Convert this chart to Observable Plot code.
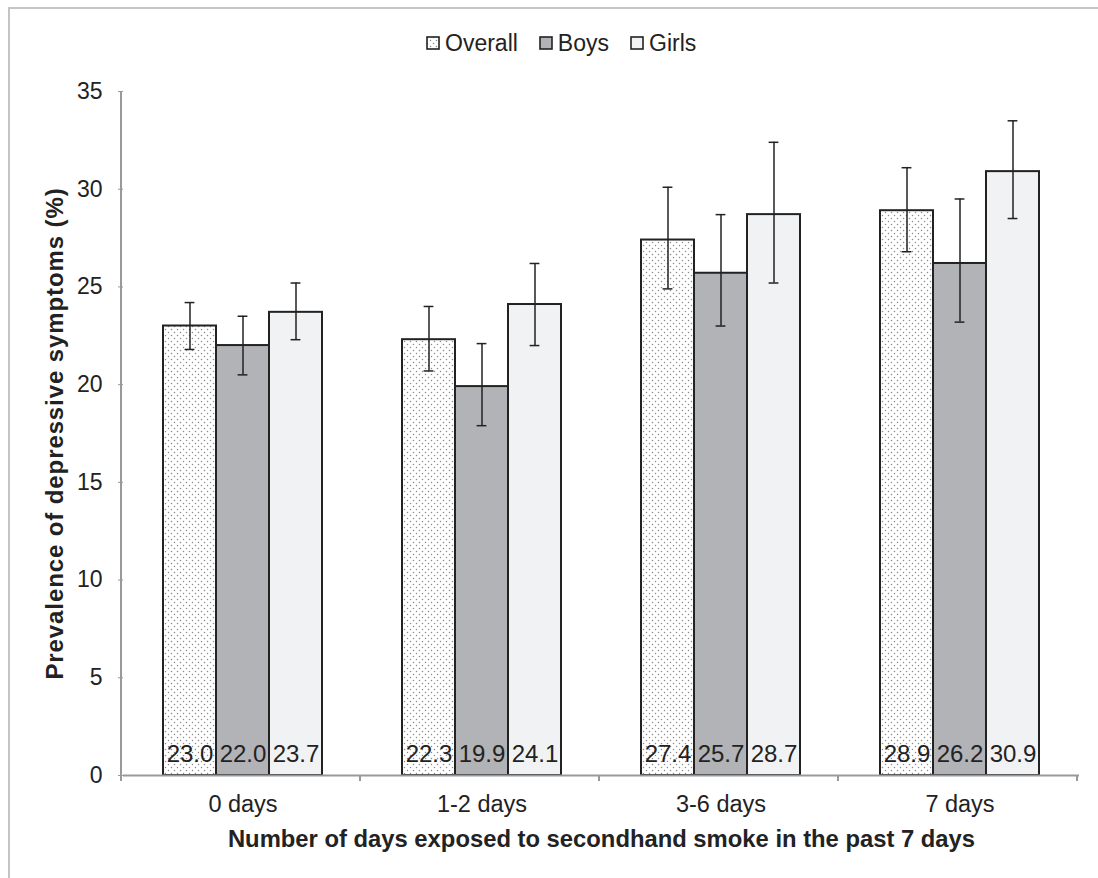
<!DOCTYPE html>
<html><head><meta charset="utf-8">
<script src="https://cdn.jsdelivr.net/npm/d3@7"></script>
<script src="https://cdn.jsdelivr.net/npm/@observablehq/plot@0.6"></script>
<style>
body{margin:0;background:#fff;font-family:"Liberation Sans",Arial,sans-serif;}
#frame{position:absolute;left:8px;top:7px;width:1090px;height:871px;border-top:2px solid #c4c4c4;border-left:2px solid #c4c4c4;}
#legend{position:absolute;top:30px;left:426px;display:flex;font-size:23px;color:#222;line-height:26px}
.item{display:flex;align-items:center;margin-right:21px}
.item svg{margin-right:5px}
#chart{position:absolute;left:0;top:70px}
#chart svg{font-family:"Liberation Sans",Arial,sans-serif;}
#chart g[aria-label="y-axis tick"] path{stroke:#999;}
#chart g[aria-label="fx-axis label"] text{font-weight:bold;font-size:23.8px;fill:#222}
#chart g[aria-label="y-axis label"] text{font-weight:bold;font-size:24px;letter-spacing:0.9px;fill:#222}
#chart g[aria-label="y-axis tick label"] text{font-size:23px;fill:#222}
#chart g[aria-label="fx-axis tick label"] text{font-size:23.5px;fill:#222}
</style>
</head><body>
<svg width="0" height="0" style="position:absolute">
  <defs>
    <pattern id="dots" width="6" height="6" patternUnits="userSpaceOnUse">
      <rect width="6" height="6" fill="#ffffff"/>
      <circle cx="1.5" cy="1.5" r="0.75" fill="#8a8a8a"/>
      <circle cx="4.5" cy="4.5" r="0.75" fill="#8a8a8a"/>
    </pattern>
  </defs>
</svg>
<div id="frame"></div>
<div id="legend"></div>
<div id="chart"></div>
<script>
// ---- data ----
const categories = ["0 days", "1-2 days", "3-6 days", "7 days"];
const groups = ["Overall", "Boys", "Girls"];
const overallValue = [23.0, 22.3, 27.4, 28.9];
const overallLow   = [21.8, 20.7, 24.9, 26.8];
const overallHigh  = [24.2, 24.0, 30.1, 31.1];
const boysValue    = [22.0, 19.9, 25.7, 26.2];
const boysLow      = [20.5, 17.9, 23.0, 23.2];
const boysHigh     = [23.5, 22.1, 28.7, 29.5];
const girlsValue   = [23.7, 24.1, 28.7, 30.9];
const girlsLow     = [22.3, 22.0, 25.2, 28.5];
const girlsHigh    = [25.2, 26.2, 32.4, 33.5];
const yTicks = [0, 5, 10, 15, 20, 25, 30, 35];
const yLabel = "Prevalence of depressive symptoms (%)";
const xLabel = "Number of days exposed to secondhand smoke in the past 7 days";

// ---- styles ----
const fills = {Overall: "url(#dots)", Boys: "#b2b3b6", Girls: "#f1f2f4"};

const seriesData = {
  Overall: [overallValue, overallLow, overallHigh],
  Boys: [boysValue, boysLow, boysHigh],
  Girls: [girlsValue, girlsLow, girlsHigh]
};
const rows = categories.flatMap((c, i) => groups.map(g => ({
  category: c, group: g,
  value: seriesData[g][0][i], lo: seriesData[g][1][i], hi: seriesData[g][2][i]
})));

// legend
const legend = document.getElementById("legend");
for (const g of groups) {
  const item = document.createElement("div");
  item.className = "item";
  item.innerHTML = `<svg width="14" height="14"><rect x="1" y="1" width="12" height="12" fill="${fills[g]}" stroke="#222" stroke-width="1.6"/></svg><span>${g}</span>`;
  legend.appendChild(item);
}

const barMarks = groups.map(g => Plot.barY(rows.filter(d => d.group === g), {
  fx: "category", x: "group", y: "value",
  fill: fills[g], stroke: "#222", strokeWidth: 2
}));

const chart = Plot.plot({
  width: 1098, height: 808,
  marginLeft: 121, marginRight: 18, marginTop: 21, marginBottom: 103,
  style: {fontFamily: "Liberation Sans, Arial, sans-serif", color: "#222", background: "transparent"},
  fx: {domain: categories, padding: 0, axis: "bottom", tickSize: 0, tickPadding: 20,
       label: xLabel, labelAnchor: "center", labelOffset: 71, labelArrow: false},
  x: {domain: groups, paddingInner: 0, paddingOuter: 0.75, axis: null},
  y: {domain: [0, 35], ticks: yTicks, tickSize: 5, tickPadding: 16,
      label: yLabel, labelAnchor: "center", labelOffset: 78, labelArrow: false, line: false},
  marks: [
    ...barMarks,
    Plot.ruleX(rows, {fx: "category", x: "group", y1: "lo", y2: "hi", stroke: "#222", strokeWidth: 1.5}),
    Plot.tickY(rows, {fx: "category", x: "group", y: "lo", stroke: "#222", strokeWidth: 1.5, insetLeft: 21.6, insetRight: 21.6}),
    Plot.tickY(rows, {fx: "category", x: "group", y: "hi", stroke: "#222", strokeWidth: 1.5, insetLeft: 21.6, insetRight: 21.6}),
    Plot.text(rows, {fx: "category", x: "group", y: 0, text: d => d.value.toFixed(1),
      lineAnchor: "bottom", dy: -14, fontSize: 24, fill: "#222"}),
    Plot.ruleY([0], {stroke: "#999", strokeWidth: 2})
  ]
});
document.getElementById("chart").appendChild(chart);

// axis line and category-boundary ticks, placed with the plot's own scales
const fxS = chart.scale("fx");
const yS = chart.scale("y");
const y0 = yS.range[0], yTop = yS.range[1];
const svg = d3.select(chart);
const g = svg.append("g").attr("stroke", "#999").attr("stroke-width", 2);
g.append("line").attr("x1", fxS.range[0]).attr("x2", fxS.range[0]).attr("y1", yTop).attr("y2", y0);
for (let i = 0; i <= categories.length; i++) {
  const x = fxS.range[0] + i * fxS.step;
  g.append("line").attr("x1", x).attr("x2", x).attr("y1", y0).attr("y2", y0 + 6);
}
</script>
</body></html>
